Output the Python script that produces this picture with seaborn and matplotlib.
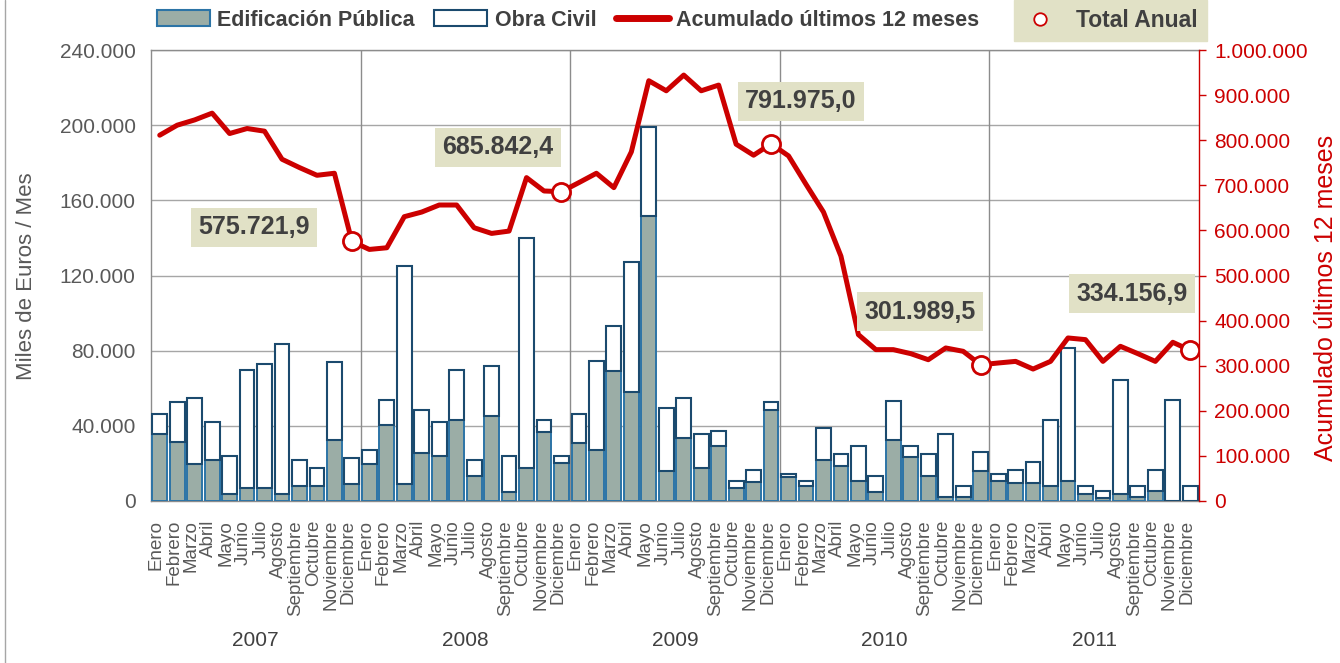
import numpy as np
import pandas as pd
import matplotlib
matplotlib.use("Agg")
import matplotlib.pyplot as plt
import matplotlib.transforms as mtransforms
from matplotlib import font_manager
from matplotlib.lines import Line2D
from matplotlib.patches import Patch
from matplotlib.ticker import FuncFormatter
import seaborn as sns

# ---------------- data ----------------
years = ["2007", "2008", "2009", "2010", "2011"]
months = ["Enero", "Febrero", "Marzo", "Abril", "Mayo", "Junio", "Julio",
          "Agosto", "Septiembre", "Octubre", "Noviembre", "Diciembre"]

edif_2007 = [35600, 31300, 19600, 21900, 3700, 6800, 6800, 3700, 8000, 8000, 32400, 9100]
edif_2008 = [19600, 40500, 9100, 25800, 24000, 43200, 13300, 45300, 4600, 17400, 36600, 20400]
edif_2009 = [31100, 27200, 69000, 58000, 151600, 16200, 33400, 17400, 29300, 6800, 10000, 48200]
edif_2010 = [13000, 8000, 21900, 18700, 10800, 4600, 32200, 23600, 13300, 2300, 2300, 16200]
edif_2011 = [10700, 9800, 9800, 8000, 10700, 3700, 1800, 3700, 2300, 5500, 0, 0]

obra_2007 = [10600, 21300, 35200, 19900, 20300, 63100, 66300, 80000, 13900, 9400, 41700, 13700]
obra_2008 = [7600, 13400, 116200, 22700, 17800, 26700, 8600, 26300, 19400, 122700, 6600, 3600]
obra_2009 = [15100, 47100, 24300, 69300, 47500, 33200, 21400, 18200, 8200, 4000, 6500, 4400]
obra_2010 = [1400, 2800, 17200, 6400, 18500, 8700, 20800, 5700, 11800, 33400, 5700, 10100]
obra_2011 = [3700, 6700, 10800, 35200, 70700, 4300, 3700, 60800, 5700, 11000, 53900, 8000]

acum_2007 = [811100, 833300, 845000, 860000, 814800, 825900, 820000, 757800, 739300, 722200, 726700, 575721.9]
acum_2008 = [557800, 561500, 630400, 640700, 656300, 656300, 605900, 593300, 598500, 717000, 687400, 685842.4]
acum_2009 = [706000, 726700, 694800, 774100, 931900, 909600, 944400, 909600, 922200, 791100, 766700, 791975.0]
acum_2010 = [765200, 702200, 640700, 542900, 368900, 335600, 335600, 326700, 313300, 339300, 331900, 301989.5]
acum_2011 = [306000, 309600, 292600, 309600, 361500, 357800, 309600, 343000, 326700, 309600, 351900, 334156.9]

# positions of the annual-total labels (month index, right-axis value)
label_pos = [(5.4, 606700), (19.36, 784400), (36.7, 886700), (43.52, 420000), (55.65, 460000)]

# ---------------- styling ----------------
sns.set_style("white")
names = {f.name for f in font_manager.fontManager.ttflist}
NARROW = "Liberation Sans Narrow" if "Liberation Sans Narrow" in names else "Liberation Sans"
plt.rcParams["font.family"] = ["Liberation Sans", "DejaVu Sans"]
MONTH_FS = 15 if NARROW == "Liberation Sans Narrow" else 13.5
YEAR_FS = 16 if NARROW == "Liberation Sans Narrow" else 15

RED = "#cc0000"
EDIF_FILL = "#9bada6"
EDIF_EDGE = "#2c74a6"
OBRA_EDGE = "#1b4a6e"
BEIGE = "#e1e1c6"
GRID = "#a6a6a6"
TXT = "#595959"
DARK = "#404040"

edif = np.concatenate([edif_2007, edif_2008, edif_2009, edif_2010, edif_2011])
obra = np.concatenate([obra_2007, obra_2008, obra_2009, obra_2010, obra_2011])
acum = np.concatenate([acum_2007, acum_2008, acum_2009, acum_2010, acum_2011])
n = len(edif)
df = pd.DataFrame({"idx": np.arange(n), "edif": edif, "obra": obra, "acum": acum,
                   "mes": [months[i % 12] for i in range(n)]})
dic = df[df["idx"] % 12 == 11]

W, H = 1340, 663
fig = plt.figure(figsize=(W / 100, H / 100), dpi=100)
L, R, T, B = 151, 1199, 50, 501
ax = fig.add_axes([L / W, (H - B) / H, (R - L) / W, (B - T) / H])

sns.barplot(data=df, x="idx", y="edif", color=EDIF_FILL, edgecolor=EDIF_EDGE,
            linewidth=1.4, width=0.85, saturation=1, errorbar=None, ax=ax, zorder=3)
sns.barplot(data=df, x="idx", y="obra", bottom=df["edif"].to_numpy(), color="white",
            edgecolor=OBRA_EDGE, linewidth=1.5, width=0.85, saturation=1, errorbar=None,
            ax=ax, zorder=3)

ax.set_xlim(-0.5, n - 0.5)
ax.set_ylim(0, 240000)
ax.set_yticks(np.arange(0, 240001, 40000))
fmt = FuncFormatter(lambda v, p: f"{int(round(v)):,}".replace(",", "."))
ax.yaxis.set_major_formatter(fmt)
ax.tick_params(axis="y", length=0, pad=11, labelsize=15, labelcolor=TXT)
ax.yaxis.grid(True, color=GRID, lw=1, zorder=0)
ax.set_axisbelow(True)
for b in np.arange(11.5, n - 1, 12):
    ax.axvline(b, color="#8c8c8c", lw=1, zorder=1)

# month-boundary ticks (minor) and year-boundary ticks (major)
ax.set_xticks(np.arange(-0.5, n, 12))
ax.set_xticks(np.arange(-0.5, n, 1), minor=True)
ax.set_xticklabels([])
ax.tick_params(axis="x", which="major", length=(H - B) * 0.72, width=1, color=GRID)
ax.tick_params(axis="x", which="minor", length=(608 - B) * 0.72, width=1, color=GRID)
ax.set_xlabel("")
ax.set_ylabel("")
for s in ["left", "top", "bottom"]:
    ax.spines[s].set_color("#8c8c8c")
    ax.spines[s].set_linewidth(1)
ax.spines["right"].set_visible(False)

trans = mtransforms.blended_transform_factory(ax.transData, ax.transAxes)
for i, m in enumerate(df["mes"]):
    ax.text(i - 0.2, (B - 520) / (B - T), m, transform=trans, rotation=90, ha="center",
            va="top", fontsize=MONTH_FS, color=TXT, family=[NARROW, "DejaVu Sans"])
for k, y in enumerate(years):
    ax.text(12 * k + 5.5, (B - 640) / (B - T), y, transform=trans, ha="center",
            va="center", fontsize=YEAR_FS, color=DARK, family=[NARROW, "DejaVu Sans"])

# accumulated line on right axis
ax2 = ax.twinx()
sns.lineplot(data=df, x="idx", y="acum", color=RED, lw=3.6, ax=ax2, zorder=4)
sns.scatterplot(data=dic, x="idx", y="acum", marker="o", s=170, facecolor="white",
                edgecolor=RED, linewidth=2, ax=ax2, zorder=5)
ax2.set_ylim(0, 1000000)
ax2.set_yticks(np.arange(0, 1000001, 100000))
ax2.yaxis.set_major_formatter(fmt)
ax2.tick_params(axis="y", length=5, width=1, color=RED, pad=6, labelsize=15, labelcolor=RED)
ax2.set_xlabel("")
ax2.set_ylabel("")
for s in ["left", "top", "bottom"]:
    ax2.spines[s].set_visible(False)
ax2.spines["right"].set_color(RED)
ax2.spines["right"].set_linewidth(1)

for (x, y), v in zip(label_pos, dic["acum"]):
    lab = f"{v:,.1f}".replace(",", "X").replace(".", ",").replace("X", ".")
    ax2.text(x, y, lab, ha="center", va="center", fontsize=18, fontweight="bold",
             color=DARK, zorder=6,
             bbox=dict(boxstyle="square,pad=0.3", fc=BEIGE, ec="none"))

# axis titles
fig.text(27 / W, 1 - 276 / H, "Miles de Euros / Mes", rotation=90, ha="center",
         va="center", fontsize=16, color=TXT)
fig.text(1326 / W, 1 - 298 / H, "Acumulado últimos 12 meses", rotation=90, ha="center",
         va="center", fontsize=18, color=RED)

# legends
handles = [Patch(facecolor=EDIF_FILL, edgecolor=EDIF_EDGE, lw=1.5, label="Edificación Pública"),
           Patch(facecolor="white", edgecolor=OBRA_EDGE, lw=1.5, label="Obra Civil"),
           Line2D([0], [0], color=RED, lw=5, label="Acumulado últimos 12 meses")]
fig.legend(handles=handles, loc="center left", bbox_to_anchor=(157 / W, 1 - 20 / H), ncol=3,
           frameon=False, prop={"weight": "bold", "size": 15.5}, labelcolor=DARK,
           handlelength=2.45, handleheight=0.7, handletextpad=0.36, columnspacing=0.9,
           borderpad=0, borderaxespad=0)
fig.legend(handles=[Line2D([0], [0], marker="o", ls="none", mfc="white", mec=RED, ms=9,
                           mew=1.3, label="Total Anual")],
           loc="upper right", bbox_to_anchor=(1207 / W, 1.0), frameon=True, fancybox=False,
           facecolor=BEIGE, edgecolor=BEIGE, framealpha=1,
           prop={"weight": "bold", "size": 16.5}, labelcolor=DARK,
           handlelength=1.4, handletextpad=0.9, borderpad=0.4, borderaxespad=0)

fig.add_artist(Line2D([5 / W, 5 / W], [0, 1], transform=fig.transFigure, color=GRID, lw=1))

fig.savefig("out.png", dpi=100)
